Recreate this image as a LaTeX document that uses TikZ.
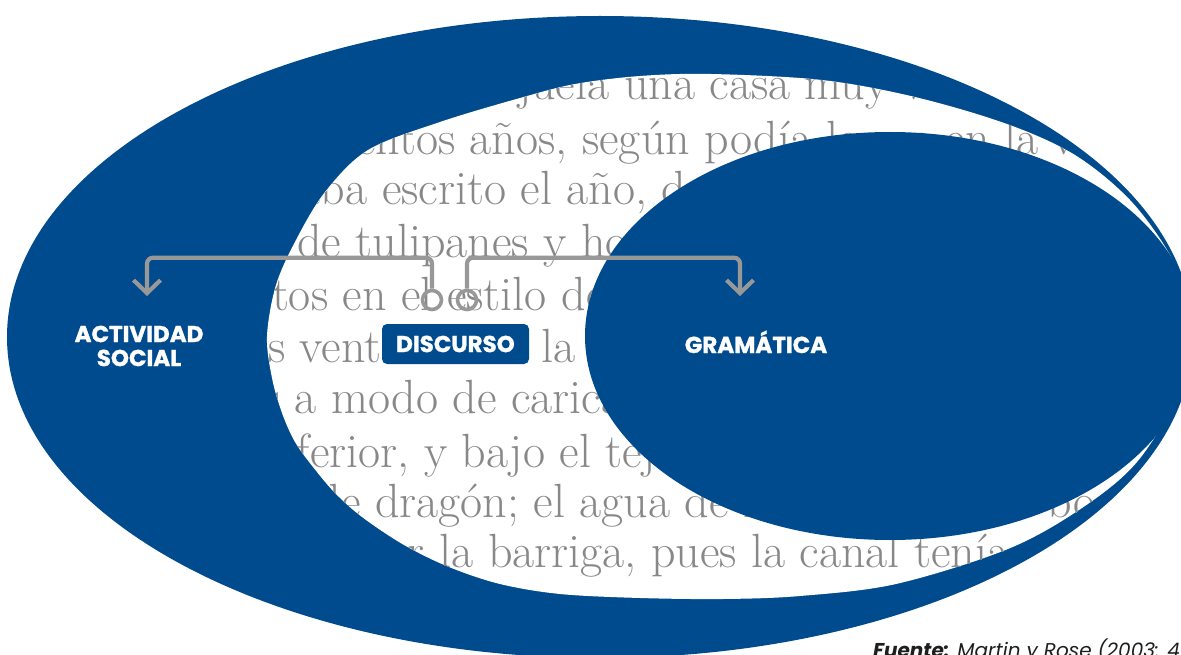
\documentclass[tikz,border=0pt]{standalone}
\usepackage{fontspec}
\newfontfamily\lblfont{Poppins}[BoldFeatures={FakeBold=1.2}]
\newfontfamily\srcfont{Poppins}
\usetikzlibrary{arrows.meta}
\definecolor{mainblue}{RGB}{0,75,142}
\definecolor{txtgray}{RGB}{136,136,136}
\definecolor{lngray}{RGB}{152,152,152}
\definecolor{srcdark}{RGB}{30,30,30}
\tikzset{
  bgline/.style={text=txtgray, font=\fontsize{48}{48}\selectfont, anchor=base west, inner sep=0pt, outer sep=0pt},
  lbl/.style={text=white, font=\lblfont\bfseries\fontsize{23}{24}\selectfont, align=center, inner sep=0pt},
  conn/.style={draw=lngray, line width=4.2pt, rounded corners=6pt},
  tipped/.style={-{Straight Barb[length=13pt,width=27pt]}},
  ring/.style={circle, draw=lngray, line width=3.6pt, minimum size=19pt, inner sep=0pt},
  dbox/.style={fill=mainblue, rounded corners=5pt, minimum width=147pt, minimum height=40pt, inner sep=0pt, text=white, font=\lblfont\bfseries\fontsize{23}{23}\selectfont},
  srcstyle/.style={anchor=base west, inner sep=0pt, text=srcdark, font=\srcfont\itshape\fontsize{20}{20}\selectfont}
}
\def\midshape{plot[smooth cycle, tension=0.55] coordinates {
  (267,336) (276,285) (296,240) (325,192) (368,150) (440,122) (520,98) (575,84)
  (640,76) (711,74) (822,80) (915,97) (1007,124) (1075,155) (1130,200) (1170,255)
  (1192,310) (1194,350) (1181,392) (1137,462) (1082,508) (1008,549) (896,584)
  (800,596) (723,599) (640,598) (560,594) (500,584) (449,567) (404,545)
  (362,517) (335,493) (313,467) (295,442) (282,413) (272,378)}}
\begin{document}
\begin{tikzpicture}[x=1pt,y=-1pt]
\useasboundingbox (0,0) rectangle (1181,655);
\clip (0,0) rectangle (1181,655);
% outer ellipse: actividad social
\fill[mainblue] (600,337) ellipse [x radius=593, y radius=321];
% middle shape: discurso (text)
\fill[white] \midshape;
\begin{scope}
\clip \midshape;
\node[bgline] (t1) at (624,100) {\llap{Había en la callejuela }una casa muy vieja, muy vieja;};
\node[bgline] (t2) at (470,155) {\llap{tenía casi trescientos }años, según podía leerse en la viga,};
\node[bgline] (t3) at (382,205) {\llap{donde estaba }escrito el año, de construcción, entre};
\node[bgline] (t4) at (297,258) {\llap{entre guirnaldas }de tulipanes y hojas de lúpulo.};
\node[bgline] (t5) at (272,310) {\llap{versos escri}tos en el estilo de antaño,};
\node[bgline] (t6) at (268,362) {\llap{y sobre la}s ventanas};
\node[bgline] (t6b) at (541,362) {la madera tallada};
\node[bgline] (t7) at (295,413) {\llap{con figuras }a modo de caricaturas.};
\node[bgline] (t8) at (297,467) {\llap{del in}ferior, y bajo el tejado};
\node[bgline] (t9) at (375,517) {\llap{con cabeza de }dragón; el agua de la lluvia por su boca,};
\node[bgline] (t10) at (488,567) {\llap{pero salía por la }barriga, pues la canal tenía un agujero};
\end{scope}
% inner ellipse: gramatica
\fill[mainblue] (890,336) ellipse [x radius=305, y radius=204];
% labels
\node[lbl] (act) at (139,346) {ACTIVIDAD\\SOCIAL};
\node[lbl, anchor=base] (gram) at (756,353) {GRAMÁTICA};
\node[dbox] (disc) at (455.5,344) {DISCURSO};
% connectors
\node[ring] (ringL) at (432,300) {};
\node[ring] (ringR) at (467,300) {};
\coordinate (tipL) at (147,296);
\coordinate (tipR) at (740,296);
\draw[conn,tipped] (ringL.north) -- ++(0,-31) -| (tipL);
\draw[conn,tipped] (ringR.north) -- ++(0,-31) -| (tipR);
% source
\node[srcstyle] (src) at (873,657) {\textbf{Fuente:} Martin y Rose (2003: 4};
\end{tikzpicture}
\end{document}
